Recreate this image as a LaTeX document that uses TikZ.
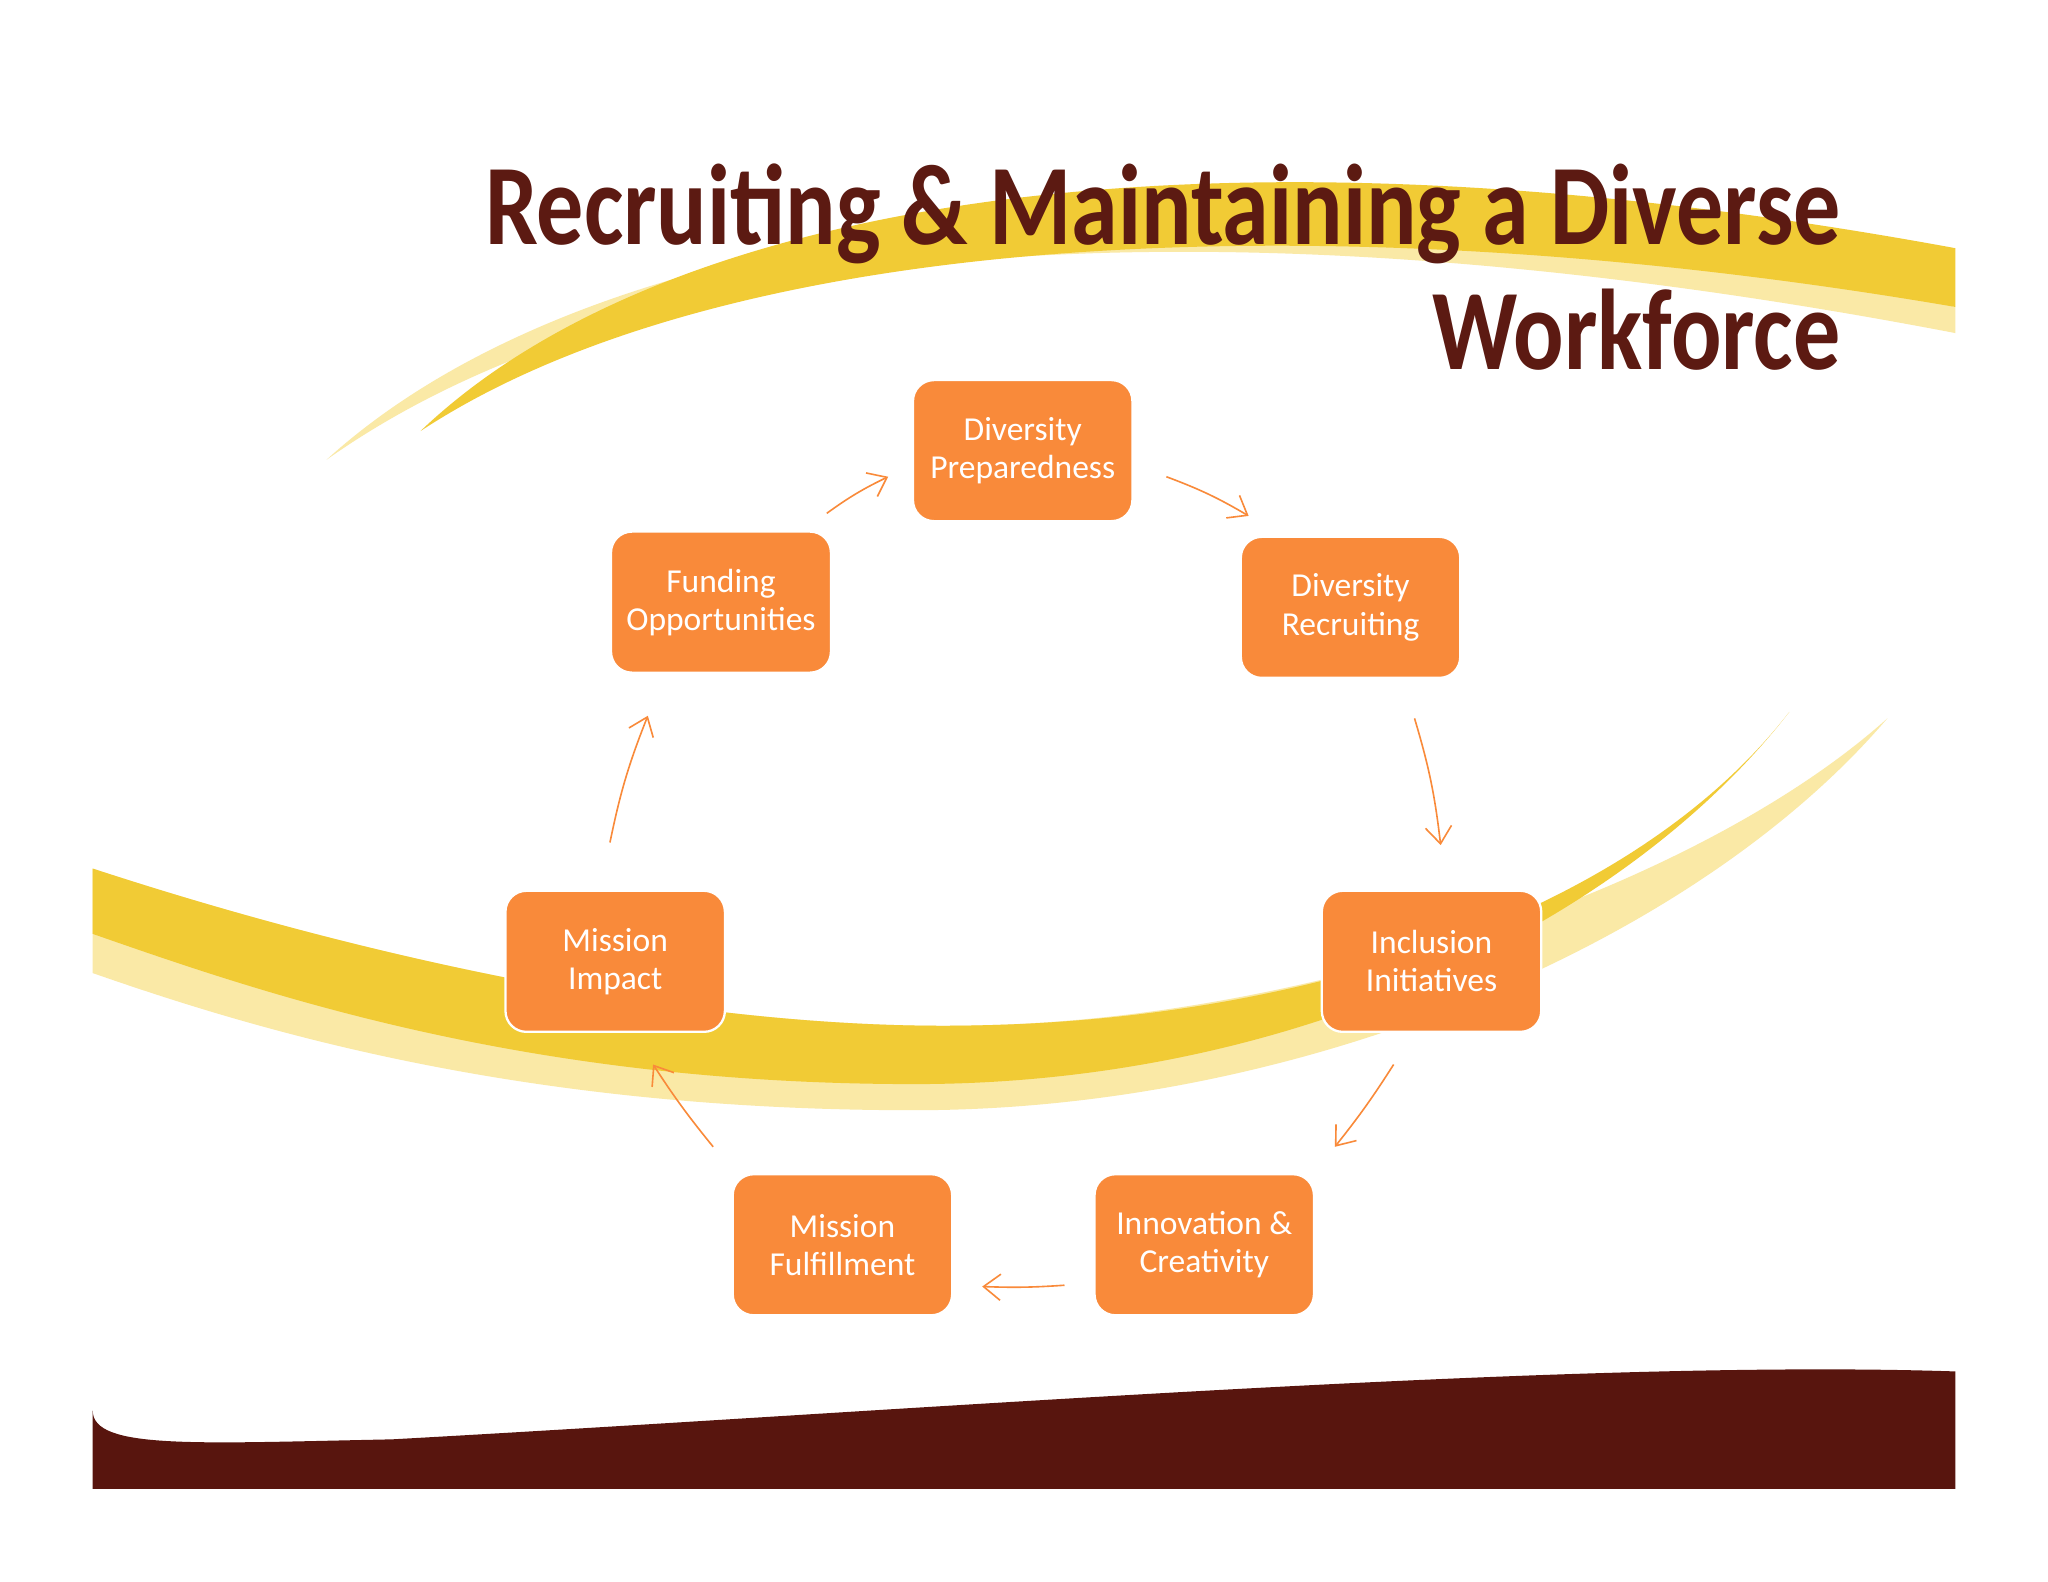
\documentclass[tikz,border=0pt]{standalone}
\usepackage{fontspec}
\setmainfont{Carlito}
\usetikzlibrary{arrows.meta}
\definecolor{boxc}{HTML}{F98A3A}
\definecolor{titc}{HTML}{5C1A12}
\definecolor{yel}{HTML}{F1CB35}
\definecolor{lyel}{HTML}{FAE9A6}
\definecolor{dark}{HTML}{58150E}
\tikzset{
 stepbox/.style={draw=white,line width=0.5pt,fill=boxc,rounded corners=1.6mm,minimum width=16.8mm,minimum height=10.8mm,text=white,align=center,font=\fontsize{7.3pt}{8.3pt}\selectfont},
 conn/.style={draw=boxc,line width=0.35pt,-{Straight Barb[length=1.3mm,width=2mm]}}
}
\begin{document}
\begin{tikzpicture}[x=0.1mm,y=-0.1mm]
\useasboundingbox (0,0) rectangle (1568,1211);
\fill[white] (0,0) rectangle (1568,1211);
% top swoosh
\fill[lyel] (250,352) .. controls (450,170) and (900,95) .. (1497,235) -- (1497,255) .. controls (950,150) and (500,175) .. (250,352) -- cycle;
\fill[yel] (322,330) .. controls (500,160) and (900,80) .. (1497,190) -- (1497,235) .. controls (1000,150) and (550,180) .. (322,330) -- cycle;
% lower swoosh
\fill[lyel] (71,665) .. controls (300,740) and (550,790) .. (750,785) .. controls (1000,780) and (1300,680) .. (1445,550) .. controls (1300,720) and (1000,850) .. (700,850) .. controls (400,850) and (200,790) .. (71,745) -- cycle;
\fill[yel] (71,665) .. controls (300,740) and (550,790) .. (750,785) .. controls (1000,780) and (1250,700) .. (1370,545) .. controls (1250,700) and (1000,830) .. (700,830) .. controls (400,830) and (200,760) .. (71,715) -- cycle;
% bottom
\fill[dark] (71,1080) .. controls (71,1110) and (150,1105) .. (300,1102) .. controls (700,1080) and (1200,1040) .. (1497,1050) -- (1497,1140) -- (71,1140) -- cycle;
% title
\node[anchor=north east,align=right,text=titc,inner sep=0,font=\fontsize{25pt}{26pt}\selectfont\bfseries] (title) at (1410,125) {\scalebox{0.82}[1]{Recruiting \& Maintaining a Diverse}\\[0.4mm]\scalebox{0.82}[1]{Workforce}};
% boxes
\node[stepbox] (dp) at (783,345) {Diversity\\Preparedness};
\node[stepbox] (dr) at (1034,465) {Diversity\\Recruiting};
\node[stepbox] (ii) at (1096,736) {Inclusion\\Initiatives};
\node[stepbox] (ic) at (922,953) {Innovation \&\\Creativity};
\node[stepbox] (mf) at (645,953) {Mission\\Fulfillment};
\node[stepbox] (mi) at (471,736) {Mission\\Impact};
\node[stepbox] (fo) at (552,461) {Funding\\Opportunities};
% connector endpoints
\coordinate (a1) at (633,393); \coordinate (a2) at (680,365);
\coordinate (b1) at (893,365); \coordinate (b2) at (956,395);
\coordinate (c1) at (1083,550); \coordinate (c2) at (1103,647);
\coordinate (d1) at (1067,815); \coordinate (d2) at (1022,878);
\coordinate (e1) at (815,984); \coordinate (e2) at (752,985);
\coordinate (f1) at (546,878); \coordinate (f2) at (500,815);
\coordinate (g1) at (467,645); \coordinate (g2) at (496,548);
\draw[conn] (a1) to[bend left=5] (a2);
\draw[conn] (b1) to[bend left=5] (b2);
\draw[conn] (c1) to[bend left=5] (c2);
\draw[conn] (d1) to[bend left=3] (d2);
\draw[conn] (e1) to[bend left=3] (e2);
\draw[conn] (f1) to[bend left=3] (f2);
\draw[conn] (g1) to[bend left=5] (g2);
\end{tikzpicture}
\end{document}
